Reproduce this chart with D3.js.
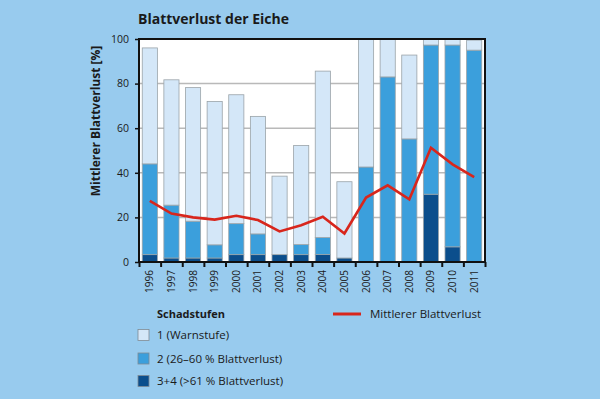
<!DOCTYPE html>
<html><head><meta charset="utf-8">
<script src="https://cdn.jsdelivr.net/npm/d3@7"></script>
<style>
html,body{margin:0;padding:0;background:#98cbee;}
svg{display:block;}
text{font-family:"Open Sans","Noto Sans",sans-serif;fill:#1a1a1a;}
</style></head>
<body>
<svg id="c" width="600" height="399"></svg>
<script>
const years = ["1996","1997","1998","1999","2000","2001","2002","2003","2004","2005","2006","2007","2008","2009","2010","2011"];
const stufe34 = [3.3,1.8,1.8,1.8,3.3,3.3,3.3,3.3,3.4,1.8,0,0,0,30.4,6.8,0];
const stufe2  = [40.7,23.7,16.5,5.9,13.9,9.3,0,4.5,7.6,0,42.6,83,55.2,66.9,90.5,95];
const stufe1  = [52,56.2,59.9,64.3,57.8,52.7,35.2,44.4,74.6,34.2,57.4,17,37.6,2.7,2.7,4.5];
const mittel  = [27.4,21.7,20,19,20.7,18.8,13.7,16.5,20.3,12.8,28.9,34.4,28.1,51.2,43.8,38.1];
const yTicks = [0,20,40,60,80,100];
const seriesKeys = ["s34","s2","s1"];
const seriesLabels = ["1 (Warnstufe)","2 (26–60 % Blattverlust)","3+4 (>61 % Blattverlust)"];
const colors = {s34:"#0b4e8c", s2:"#3b9fdc", s1:"#d4e7f8"};
const lineColor = "#d8261c";

const svg = d3.select("#c");
const L = 139, R = 485, T = 39, B = 262;

const rows = years.map((y,i)=>({year:y, s34:stufe34[i], s2:stufe2[i], s1:stufe1[i]}));
const stack = d3.stack().keys(seriesKeys)(rows);

const x = d3.scaleBand().domain(years).range([L,R]).paddingInner(0.3).paddingOuter(0.15);
const xEdge = d3.scaleLinear().domain([0,years.length]).range([L,R]);
const y = d3.scaleLinear().domain([0,100]).range([B,T]);

svg.append("rect").attr("x",L).attr("y",T).attr("width",R-L).attr("height",B-T).attr("fill","#fff");

svg.append("g").selectAll("line").data(yTicks.filter(d=>d>0&&d<100)).join("line")
  .attr("x1",L).attr("x2",R).attr("y1",d=>y(d)).attr("y2",d=>y(d))
  .attr("stroke","#b9b9b9").attr("stroke-width",1.5);

svg.append("g").selectAll("g").data(stack).join("g")
  .attr("fill",d=>colors[d.key])
  .selectAll("rect").data(d=>d.filter(s=>s[1]-s[0]>0)).join("rect")
  .attr("x",d=>x(d.data.year)).attr("width",x.bandwidth())
  .attr("y",d=>y(d[1])).attr("height",d=>y(d[0])-y(d[1]))
  .attr("stroke","#9aa3a8").attr("stroke-width",0.8);

svg.append("path").datum(mittel)
  .attr("fill","none").attr("stroke",lineColor).attr("stroke-width",2.6).attr("stroke-linejoin","miter")
  .attr("d",d3.line().x((d,i)=>x(years[i])+x.bandwidth()/2).y(d=>y(d)));

svg.append("rect").attr("x",L).attr("y",T).attr("width",R-L).attr("height",B-T)
  .attr("fill","none").attr("stroke","#111").attr("stroke-width",2);

const ya = svg.append("g").attr("transform",`translate(${L},0)`)
  .call(d3.axisLeft(y).tickValues(yTicks).tickSize(4).tickPadding(6));
ya.select(".domain").remove();
ya.selectAll("line").attr("stroke","#111").attr("stroke-width",1.5);
ya.selectAll("text").style("font-size","10.5px").attr("fill","#1a1a1a");

const xt = svg.append("g").attr("transform",`translate(0,${B})`)
  .call(d3.axisBottom(xEdge).tickValues(d3.range(years.length+1)).tickSize(5).tickFormat(""));
xt.select(".domain").remove();
xt.selectAll("line").attr("stroke","#111").attr("stroke-width",2);

const xa = svg.append("g").attr("transform",`translate(0,${B})`)
  .call(d3.axisBottom(x).tickSize(0));
xa.select(".domain").remove();
xa.selectAll("text").style("font-size","10px").attr("fill","#1a1a1a")
  .attr("transform","rotate(-90)").attr("text-anchor","end")
  .attr("x",-8).attr("y",0).attr("dy","0.35em");

svg.append("text").attr("x",138).attr("y",24).text("Blattverlust der Eiche")
  .style("font-size","14px").style("font-weight","700");

svg.append("text").attr("transform","translate(100,121) rotate(-90)").attr("text-anchor","middle")
  .text("Mittlerer Blattverlust [%]").style("font-size","12px").style("font-weight","700");

svg.append("text").attr("x",157).attr("y",318).text("Schadstufen")
  .style("font-size","11px").style("font-weight","700");
const legY = [335,358.5,381];
const legKeys = ["s1","s2","s34"];
const lg = svg.append("g").selectAll("g").data(legKeys).join("g")
  .attr("transform",(d,i)=>`translate(138,${legY[i]})`);
lg.append("rect").attr("x",0).attr("y",-5.5).attr("width",11).attr("height",11)
  .attr("fill",d=>colors[d]).attr("stroke","#7f8b93").attr("stroke-width",0.8);
lg.append("text").attr("x",19).attr("y",0).attr("dy","0.35em")
  .text((d,i)=>seriesLabels[i]).style("font-size","11.5px");

svg.append("line").attr("x1",333).attr("x2",361).attr("y1",314).attr("y2",314)
  .attr("stroke",lineColor).attr("stroke-width",3);
svg.append("text").attr("x",370).attr("y",314).attr("dy","0.35em")
  .text("Mittlerer Blattverlust").style("font-size","11.5px");
</script>
</body></html>
